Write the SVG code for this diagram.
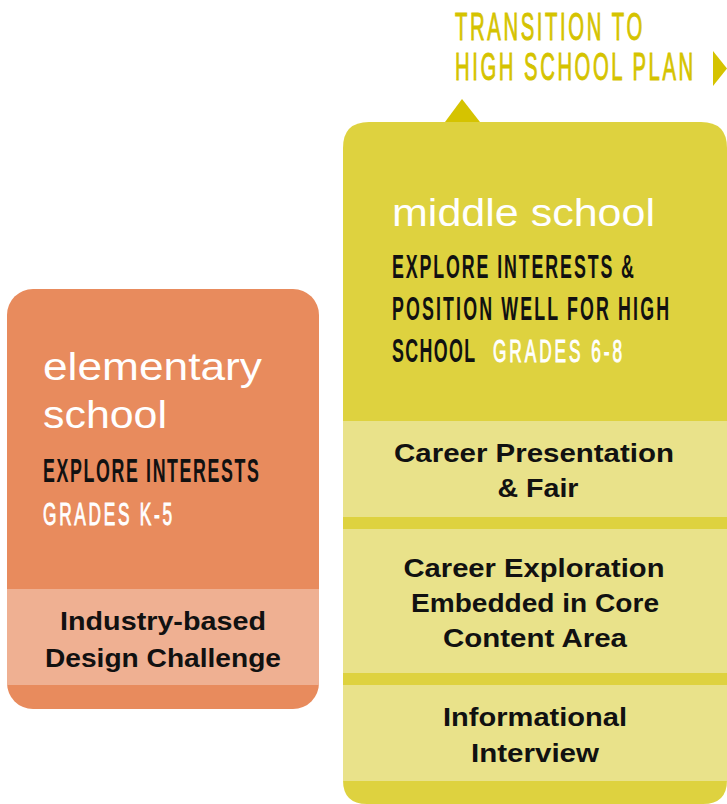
<svg xmlns="http://www.w3.org/2000/svg" width="727" height="804" viewBox="0 0 727 804">
<style>
.cond{font-family:"Liberation Sans",Arial,sans-serif;}
.yel{font-size:39px;fill:#d5c300;stroke:#d5c300;stroke-width:1px;}
.blk{font-size:33px;font-weight:bold;fill:#111111;}
.wht{font-size:32px;fill:#ffffff;stroke:#ffffff;stroke-width:1px;}
.ttl{font-family:"Liberation Sans",Arial,sans-serif;font-size:38px;fill:#ffffff;}
.item{font-family:"Liberation Sans",Arial,sans-serif;font-size:26px;font-weight:bold;fill:#111111;text-anchor:middle;}
</style>
<rect width="727" height="804" fill="#ffffff"/>
<g id="transition">
<g transform="translate(455,40) scale(0.52,1)"><text class="cond yel" x="0" y="0" textLength="360" lengthAdjust="spacing">TRANSITION TO</text></g>
<g transform="translate(455,80) scale(0.52,1)"><text class="cond yel" x="0" y="0" textLength="458" lengthAdjust="spacing">HIGH SCHOOL PLAN</text></g>
<polygon points="713,51 727,68.5 713,86" fill="#d5c300"/>
</g>
<g id="connectors">
<polygon points="445,122 462,99 480,122" fill="#d5c300"/>
</g>
<g id="elementary">
<rect x="7" y="289" width="312" height="420" rx="26" fill="#e88b5d"/>
<rect x="7" y="589" width="312" height="96" fill="#efb092"/>
<text class="ttl" x="43" y="380" textLength="219" lengthAdjust="spacingAndGlyphs">elementary</text>
<text class="ttl" x="43" y="428" textLength="124" lengthAdjust="spacingAndGlyphs">school</text>
<g transform="translate(43,482) scale(0.54,1)"><text class="cond blk" x="0" y="0" textLength="400" lengthAdjust="spacing">EXPLORE INTERESTS</text></g>
<g transform="translate(43,525) scale(0.54,1)"><text class="cond wht" x="0" y="0" textLength="239" lengthAdjust="spacing">GRADES K-5</text></g>
<text class="item" x="163" y="630" textLength="206" lengthAdjust="spacingAndGlyphs">Industry-based</text>
<text class="item" x="163" y="667" textLength="236" lengthAdjust="spacingAndGlyphs">Design Challenge</text>
</g>
<g id="middle">
<path d="M343,148 Q343,122 369,122 L701,122 Q727,122 727,148 L727,780 Q727,804 703,804 L367,804 Q343,804 343,780 Z" fill="#ded23f"/>
<rect x="343" y="421" width="384" height="96" fill="#e9e28a"/>
<rect x="343" y="529" width="384" height="144" fill="#e9e28a"/>
<rect x="343" y="685" width="384" height="96" fill="#e9e28a"/>
<text class="ttl" x="392" y="226" textLength="263" lengthAdjust="spacingAndGlyphs">middle school</text>
<g transform="translate(392,278) scale(0.54,1)"><text class="cond blk" x="0" y="0" textLength="448" lengthAdjust="spacing">EXPLORE INTERESTS &amp;</text></g>
<g transform="translate(392,320) scale(0.54,1)"><text class="cond blk" x="0" y="0" textLength="513" lengthAdjust="spacing">POSITION WELL FOR HIGH</text></g>
<g transform="translate(392,362) scale(0.54,1)"><text class="cond blk" x="0" y="0" textLength="154" lengthAdjust="spacing">SCHOOL</text></g>
<g transform="translate(493,362) scale(0.54,1)"><text class="cond wht" x="0" y="0" textLength="239" lengthAdjust="spacing">GRADES 6-8</text></g>
<text class="item" x="534" y="462" textLength="280" lengthAdjust="spacingAndGlyphs">Career Presentation</text>
<text class="item" x="538" y="497" textLength="81" lengthAdjust="spacingAndGlyphs">&amp; Fair</text>
<text class="item" x="534" y="577" textLength="261" lengthAdjust="spacingAndGlyphs">Career Exploration</text>
<text class="item" x="535" y="612" textLength="248" lengthAdjust="spacingAndGlyphs">Embedded in Core</text>
<text class="item" x="535" y="647" textLength="184" lengthAdjust="spacingAndGlyphs">Content Area</text>
<text class="item" x="535" y="726" textLength="184" lengthAdjust="spacingAndGlyphs">Informational</text>
<text class="item" x="535" y="762" textLength="128" lengthAdjust="spacingAndGlyphs">Interview</text>
</g>
</svg>
